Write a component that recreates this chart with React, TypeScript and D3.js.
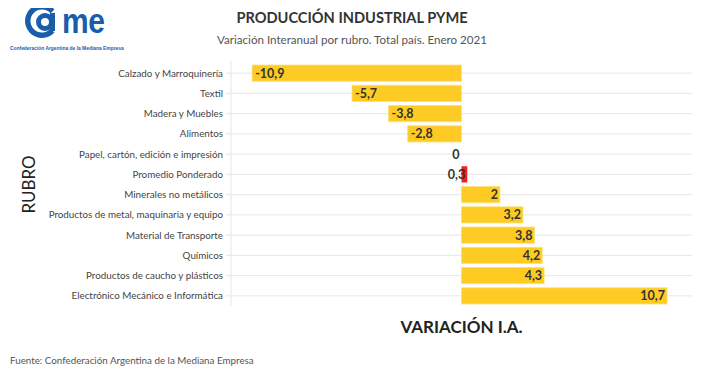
import * as d3 from 'd3'

const rubros = [
  'Calzado y Marroquinería',
  'Textil',
  'Madera y Muebles',
  'Alimentos',
  'Papel, cartón, edición e impresión',
  'Promedio Ponderado',
  'Minerales no metálicos',
  'Productos de metal, maquinaria y equipo',
  'Material de Transporte',
  'Químicos',
  'Productos de caucho y plásticos',
  'Electrónico Mecánico e Informática',
]
const variacion = [-10.9, -5.7, -3.8, -2.8, 0, 0.3, 2, 3.2, 3.8, 4.2, 4.3, 10.7]
const etiquetas = ['-10,9', '-5,7', '-3,8', '-2,8', '0', '0,3', '2', '3,2', '3,8', '4,2', '4,3', '10,7']
const destacado = 'Promedio Ponderado'

const W = 706
const H = 385
const PLOT = { left: 231, right: 692, top: 63, bottom: 306 }
const FONT = 'Lato, "Open Sans", sans-serif'
const LOGO_FONT = "'Liberation Sans', Arial, sans-serif"

export default function App() {
  const x = d3.scaleLinear().domain([-12, 12]).range([PLOT.left, PLOT.right])
  const y = d3.scaleBand<string>()
    .domain(rubros)
    .range([PLOT.top, PLOT.bottom])
    .paddingInner(0.2)
    .paddingOuter(0.1)

  // logo: C exterior (abierta a la derecha) + "a" interior
  const arcC = d3.arc()({ innerRadius: 11.5, outerRadius: 17, startAngle: Math.PI / 2 + 0.75, endAngle: Math.PI / 2 + 2 * Math.PI - 0.75 }) ?? ''
  const arcA = d3.arc()({ innerRadius: 4, outerRadius: 9, startAngle: 0, endAngle: 2 * Math.PI }) ?? ''

  return (
    <div style={{ margin: -8 }}>
      <svg width={W} height={H} style={{ display: 'block', background: '#fff' }}>
        {/* logo */}
        <g fill="#1a5eab">
          <path d={arcC} transform="translate(42,21)" />
          <path d={arcA} transform="translate(45,22)" />
          <rect x={50} y={13} width={5} height={18} />
          <text transform="translate(62,33) scale(1,1.16)" fontFamily={LOGO_FONT} fontWeight={700} fontSize={30} letterSpacing={-0.5}>me</text>
          <text x={10} y={50} fontFamily={LOGO_FONT} fontWeight={700} fontSize={4.9}>Confederación Argentina de la Mediana Empresa</text>
        </g>

        {/* titulos */}
        <text x={352} y={23} textAnchor="middle" fontFamily={FONT} fontWeight={700} fontSize={14.6} fill="#333">PRODUCCIÓN INDUSTRIAL PYME</text>
        <text x={352} y={44} textAnchor="middle" fontFamily={FONT} fontSize={11.6} fill="#555">Variación Interanual por rubro. Total país. Enero 2021</text>

        {/* grilla */}
        {rubros.map(r => {
          const cy = (y(r) ?? 0) + y.bandwidth() / 2
          return <line key={r} x1={PLOT.left - 5} x2={PLOT.right} y1={cy} y2={cy} stroke="#e6e6e6" strokeWidth={1} />
        })}
        <line x1={PLOT.left} x2={PLOT.left} y1={PLOT.top - 2} y2={PLOT.bottom} stroke="#e6e6e6" strokeWidth={1} />

        {/* etiquetas eje y */}
        {rubros.map(r => (
          <text key={r} x={PLOT.left - 8} y={(y(r) ?? 0) + y.bandwidth() / 2} dy="0.35em" textAnchor="end" fontFamily={FONT} fontSize={9.8} fill="#444">{r}</text>
        ))}

        {/* barras */}
        {rubros.map((r, i) => {
          const v = variacion[i]
          const x0 = x(Math.min(0, v))
          const w = Math.abs(x(v) - x(0))
          return (
            <rect key={r} x={x0} y={y(r)} width={w} height={y.bandwidth()}
              fill={r === destacado ? '#f51d1d' : '#fdcb24'}
              stroke={r === destacado ? 'none' : '#fde07a'} strokeWidth={0.8} />
          )
        })}

        {/* valores */}
        {rubros.map((r, i) => {
          const v = variacion[i]
          const cy = (y(r) ?? 0) + y.bandwidth() / 2
          const neg = v < 0
          return (
            <text key={r} x={neg ? x(v) + 3 : x(v) - 2} y={cy} dy="0.36em" textAnchor={neg ? 'start' : 'end'}
              fontFamily={FONT} fontWeight={700} fontSize={12.5} fill="#333">{etiquetas[i]}</text>
          )
        })}

        {/* titulos de ejes */}
        <text transform={`translate(35,${(PLOT.top + PLOT.bottom) / 2}) rotate(-90)`} textAnchor="middle" fontFamily={FONT} fontSize={17} fill="#222">RUBRO</text>
        <text x={x(0)} y={333} textAnchor="middle" fontFamily={FONT} fontWeight={700} fontSize={17} fill="#222">VARIACIÓN I.A.</text>

        {/* fuente */}
        <text x={10} y={364} fontFamily={FONT} fontSize={9.8} fill="#555">Fuente: Confederación Argentina de la Mediana Empresa</text>
      </svg>
    </div>
  )
}
